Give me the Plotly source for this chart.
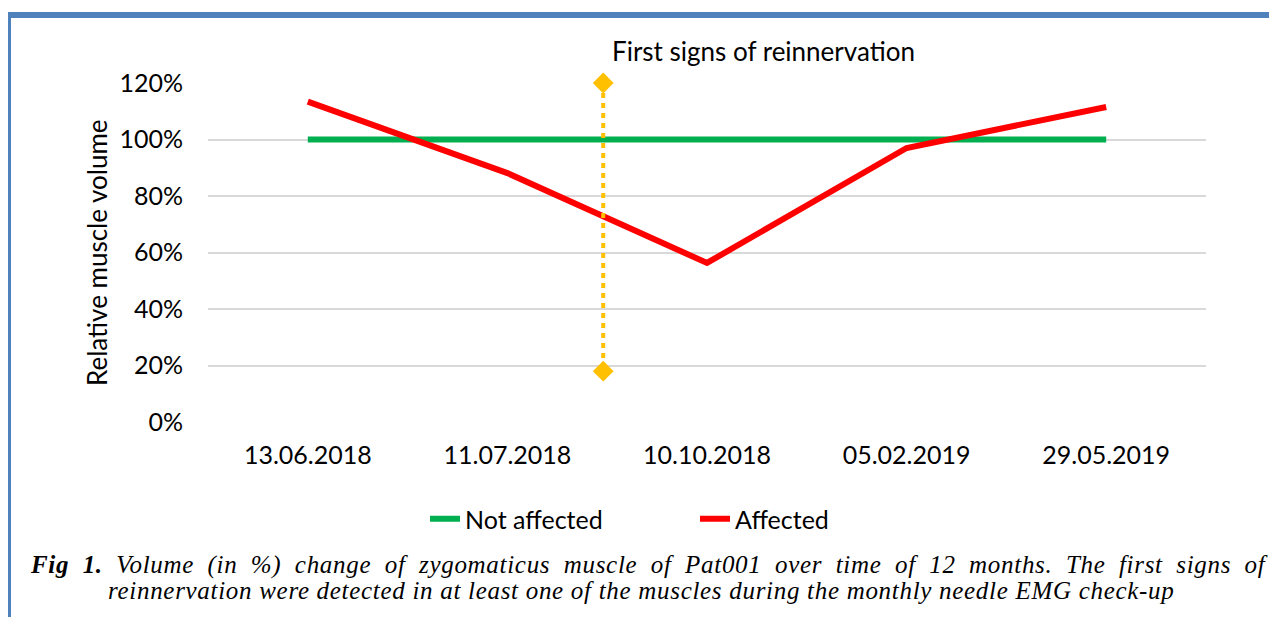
import plotly.graph_objects as go

# data
dates = ["13.06.2018", "11.07.2018", "10.10.2018", "05.02.2019", "29.05.2019"]
date_pos = [0, 1, 2, 3, 4]
not_affected = [1.00, 1.00, 1.00, 1.00, 1.00]
affected = [1.134, 0.881, 0.563, 0.970, 1.115]
reinnervation_x = [1.48, 1.48]
reinnervation_y = [1.20, 0.18]
y_ticks = [0, 0.2, 0.4, 0.6, 0.8, 1.0, 1.2]

# the page body has an 8px margin, so work in screen pixels and shift
OFF = 8
W, H = 1277 - OFF, 617 - OFF
PL, PR, PT, PB = 208 - OFF, 1206 - OFF, 83 - OFF, 422 - OFF  # plot area
FONT = "Lato"


def px_x(px):
    return (px - OFF - PL) / (PR - PL)


def px_y(py):
    return (PB - (py - OFF)) / (PB - PT)


fig = go.Figure()

fig.add_trace(go.Scatter(
    x=date_pos, y=not_affected, mode="lines", name="Not affected",
    line=dict(color="#00B050", width=6),
))
fig.add_trace(go.Scatter(
    x=date_pos, y=affected, mode="lines", name="Affected",
    line=dict(color="#FF0000", width=6),
))
fig.add_trace(go.Scatter(
    x=reinnervation_x, y=reinnervation_y, mode="lines+markers",
    line=dict(color="#FFC000", width=4, dash="5px,5px"),
    marker=dict(symbol="diamond", size=16, color="#FFC000"),
    showlegend=False, cliponaxis=False,
))

# blue frame (top + left)
fig.add_shape(type="path", xref="paper", yref="paper",
              path=f"M {px_x(1290)} {px_y(15)} L {px_x(8)} {px_y(15)} L {px_x(8)} {px_y(630)}",
              line=dict(color="#4F81BD", width=6))

annotations = [
    dict(text="First signs of reinnervation", x=px_x(763), y=px_y(51),
         font=dict(family=FONT, size=26, color="black")),
    dict(text="Relative muscle volume", x=px_x(97), y=px_y(253), textangle=-90,
         font=dict(family=FONT, size=26, color="black")),
    dict(text='<span style="word-spacing:6.5px;letter-spacing:0.7px"><b><i>Fig 1.</i></b> '
              '<i>Volume (in %) change of zygomaticus muscle of Pat001 over time of 12 months. '
              'The first signs of</i></span>',
         x=px_x(28), y=px_y(565), xanchor="left",
         font=dict(family="Liberation Serif", size=25, color="black")),
    dict(text='<span style="letter-spacing:0.7px"><i>reinnervation were detected in at least one of the '
              'muscles during the monthly needle EMG check-up</i></span>',
         x=px_x(641), y=px_y(590),
         font=dict(family="Liberation Serif", size=25, color="black")),
]
for a in annotations:
    a.update(xref="paper", yref="paper", showarrow=False)
    a.setdefault("xanchor", "center")
    a.setdefault("yanchor", "middle")

fig.update_layout(
    width=W, height=H,
    margin=dict(l=PL, r=W - PR, t=PT, b=H - PB),
    plot_bgcolor="white", paper_bgcolor="white",
    font=dict(family=FONT, size=25, color="black"),
    xaxis=dict(range=[-0.5, 4.5], tickvals=date_pos, ticktext=dates,
               showgrid=False, zeroline=False, showline=False,
               ticklabelstandoff=16, fixedrange=True),
    yaxis=dict(range=[0, 1.2], tickvals=y_ticks, tickformat=".0%",
               showgrid=True, gridcolor="#D9D9D9", gridwidth=1.5,
               zeroline=False, showline=False, ticklabelstandoff=24, fixedrange=True),
    legend=dict(orientation="h", x=px_x(425), y=px_y(519), xanchor="left", yanchor="middle",
                entrywidth=225, font=dict(family=FONT, size=25), bgcolor="rgba(0,0,0,0)"),
    annotations=annotations,
    hovermode=False,
)

fig.write_html("out.html")
